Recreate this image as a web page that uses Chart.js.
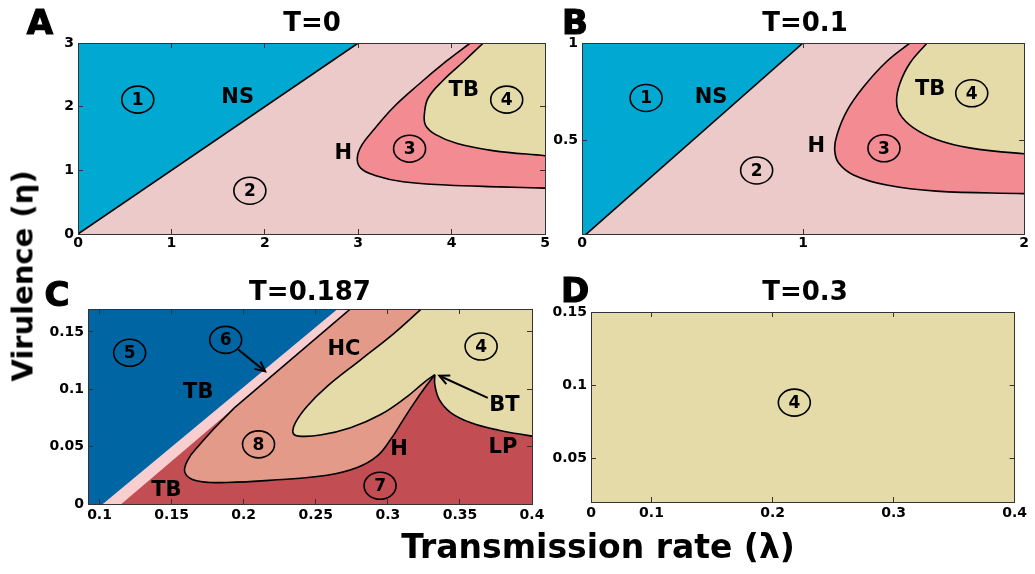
<!DOCTYPE html>
<html>
<head>
<meta charset="utf-8">
<script src="https://cdn.jsdelivr.net/npm/chart.js@4.4.0/dist/chart.umd.min.js"></script>
<style>
  body { margin: 0; background: #fff; }
  #fig { position: relative; width: 1035px; height: 574px; overflow: hidden;
         font-family: 'DejaVu Sans', sans-serif; font-weight: bold; color: #000; }
  canvas { position: absolute; }
  .t { position: absolute; transform: translate(-50%, -50%); white-space: nowrap; line-height: 1; }
  .letter { font-size: 34px; -webkit-text-stroke: 1.2px #000; }
  .ttl { font-size: 26px; }
</style>
</head>
<body>
<div id="fig">
  <canvas id="cA" width="560" height="270" style="left:0;top:0;width:560px;height:270px"></canvas>
  <canvas id="cB" width="505" height="270" style="left:530px;top:0;width:505px;height:270px"></canvas>
  <canvas id="cC" width="560" height="304" style="left:0;top:270px;width:560px;height:304px"></canvas>
  <canvas id="cD" width="505" height="304" style="left:530px;top:270px;width:505px;height:304px"></canvas>

  <div class="t letter" style="left:40px;top:22px">A</div>
  <div class="t letter" style="left:575px;top:22px">B</div>
  <div class="t letter" style="left:57px;top:294px">C</div>
  <div class="t letter" style="left:575px;top:290px">D</div>

  <div class="t ttl" style="left:312px;top:22px">T=0</div>
  <div class="t ttl" style="left:805px;top:22px">T=0.1</div>
  <div class="t ttl" style="left:310px;top:291px">T=0.187</div>
  <div class="t ttl" style="left:805px;top:291px">T=0.3</div>

  <div class="t" style="left:23px;top:276px;font-size:29px;transform:translate(-50%,-50%) rotate(-90deg)">Virulence (η)</div>
  <div class="t" style="left:598px;top:546px;font-size:33px">Transmission rate (λ)</div>
</div>

<script>
// ---- tick values / labels ----
const aXTicks = [0, 1, 2, 3, 4, 5];
const aYTicks = [0, 1, 2, 3];
const bXTicks = [0, 1, 2];
const bYTicks = [0.5, 1];
const cXTicks = [0.1, 0.15, 0.2, 0.25, 0.3, 0.35, 0.4];
const cYTicks = [0, 0.05, 0.1, 0.15];
const dXTicks = [0.05, 0.1, 0.2, 0.3, 0.4];
const dXLabels = ['0', '0.1', '0.2', '0.3', '0.4'];
const dYTicks = [0.05, 0.1, 0.15];

// ---- panel A, T=0 : boundary curves (lambda, eta), ends run past the axes ----
const aNS = [[0, 0], [3, 3]];
const aH = [[4.47, 3.3], [4.20, 3.0], [3.94, 2.71], [3.64, 2.34], [3.37, 1.98], [3.18, 1.66], [3.04, 1.40],
            [2.99, 1.19], [3.03, 1.03], [3.18, 0.92], [3.48, 0.82], [3.94, 0.77], [4.51, 0.74], [5.0, 0.72], [5.5, 0.70]];
const aTB = [[4.56, 3.3], [4.34, 3.0], [4.13, 2.71], [3.90, 2.40], [3.75, 2.14], [3.71, 1.90], [3.72, 1.71],
             [3.83, 1.56], [4.06, 1.42], [4.44, 1.31], [5.0, 1.23], [5.5, 1.16]];
const aBox = [[0, 0], [5, 0], [5, 3], [0, 3]];
const aCircles = [[0.64, 2.11, '1'], [1.84, 0.68, '2'], [3.55, 1.34, '3'], [4.59, 2.11, '4']];
const aTexts = [[1.71, 2.14, 'NS'], [4.13, 2.26, 'TB'], [2.84, 1.26, 'H']];

// ---- panel B, T=0.1 ----
const bNS = [[0, 0], [1, 1]];
const bH = [[1.594, 1.1], [1.483, 1.0], [1.378, 0.905], [1.273, 0.774], [1.199, 0.653], [1.154, 0.531], [1.143, 0.453],
            [1.161, 0.384], [1.228, 0.323], [1.378, 0.271], [1.603, 0.240], [2.0, 0.227], [2.2, 0.22]];
const bTB = [[1.636, 1.1], [1.561, 1.0], [1.483, 0.896], [1.438, 0.792], [1.423, 0.705], [1.438, 0.635],
             [1.498, 0.566], [1.603, 0.505], [1.753, 0.462], [2.0, 0.432], [2.2, 0.42]];
const bBox = [[0, 0], [2, 0], [2, 1], [0, 1]];
const bCircles = [[0.29, 0.718, '1'], [0.79, 0.346, '2'], [1.366, 0.46, '3'], [1.763, 0.742, '4']];
const bTexts = [[0.584, 0.722, 'NS'], [1.575, 0.76, 'TB'], [1.06, 0.467, 'H']];

// ---- panel C, T=0.187 ----
const cBlueEdge = [[0.0927, -0.01], [0.2747, 0.18]];
const cStripEdge = [[0.1058, -0.01], [0.2833, 0.18]];
const cTBline = [[0.1935, 0.0838], [0.2833, 0.18]];
const cHC = [[0.3321, 0.18], [0.3229, 0.1697], [0.3043, 0.1488], [0.2811, 0.1257], [0.2579, 0.1026], [0.2440, 0.0853],
             [0.2358, 0.0708], [0.2342, 0.0621], [0.2381, 0.0592], [0.2532, 0.0601], [0.2741, 0.0665], [0.2950, 0.0780],
             [0.3136, 0.0939], [0.3252, 0.1061], [0.3326, 0.1127]];
const cH = [[0.3326, 0.1127], [0.3264, 0.1026], [0.3183, 0.0882], [0.3101, 0.0723], [0.3020, 0.0564], [0.2927, 0.0419],
            [0.2788, 0.0318], [0.2579, 0.0251], [0.2231, 0.0211], [0.1882, 0.0188], [0.1673, 0.0202], [0.1592, 0.0275],
            [0.1615, 0.0390], [0.1697, 0.0520], [0.1800, 0.0665], [0.1935, 0.0838]];
const cLP = [[0.3326, 0.1127], [0.3326, 0.1040], [0.3357, 0.0910], [0.3438, 0.0795], [0.3577, 0.0708],
             [0.3763, 0.0645], [0.4000, 0.0592], [0.4111, 0.0578]];
const cArrow6 = [[0.1964, 0.1344], [0.2149, 0.1156]];
const cArrowBT = [[0.3693, 0.0925], [0.3357, 0.1118]];
const cBox = [[0.08, -0.01], [0.42, -0.01], [0.42, 0.18], [0.08, 0.18]];
const cCircles = [[0.1209, 0.1318, '5'], [0.1875, 0.1431, '6'], [0.2103, 0.052, '8'], [0.2946, 0.0159, '7'], [0.3647, 0.1373, '4']];
const cTexts = [[0.1685, 0.0968, 'TB'], [0.1464, 0.0116, 'TB'], [0.2695, 0.1344, 'HC'], [0.3078, 0.0477, 'H'],
                [0.3798, 0.0491, 'LP'], [0.3809, 0.0858, 'BT']];

// ---- panel D, T=0.3 ----
const dBox = [[0, 0], [0.5, 0], [0.5, 0.2], [0, 0.2]];
const dCircles = [[0.218, 0.088, '4']];

const col = {
  cyan: '#00A8D2', pink: '#EDCACA', rose: '#F38B93', khaki: '#E5DBA9',
  navy: '#0065A3', blush: '#F9CED1', coral: '#E39A89', brick: '#C24D52'
};
const tickFont = { family: 'DejaVu Sans', weight: 'bold', size: 14 };

const pts = a => a.map(([x, y]) => ({ x, y }));

function curve(data, extra) {
  return Object.assign({ data: pts(data), borderColor: '#000', borderWidth: 1.6, pointRadius: 0,
                         fill: false, tension: 0.4, xAxisID: 'x', yAxisID: 'y' }, extra);
}
function region(data, color, tension = 0.4) {
  return { data: pts(data), backgroundColor: color, borderColor: 'rgba(0,0,0,0)', borderWidth: 0,
           pointRadius: 0, fill: 'shape', tension, xAxisID: 'x', yAxisID: 'y' };
}
// close a curve into a fillable shape: repeated points keep the corners sharp
function shape(line, corners) {
  return [...line, line[line.length - 1], ...corners.flatMap(c => [c, c])];
}

function axis(pos, range, values, labels, size, pad) {
  const horiz = pos === 'top' || pos === 'bottom';
  const shown = pos === 'left' || pos === 'bottom';
  return {
    type: 'linear', axis: horiz ? 'x' : 'y', position: pos, min: range[0], max: range[1],
    afterBuildTicks: s => { s.ticks = values.map(v => ({ value: v })); },
    afterFit: s => { if (horiz) s.height = size; else s.width = size; },
    ticks: { display: shown, font: tickFont, color: '#000', padding: pad, autoSkip: false, maxRotation: 0,
             callback: (v, i) => labels ? labels[i] : String(values[i]) },
    grid: { drawOnChartArea: false, drawTicks: true, tickLength: -5, color: '#333', tickWidth: 1, z: 1 },
    border: { display: true, color: '#333', width: 1, z: 1 }
  };
}

function notesPlugin(n) {
  return {
    id: 'notes',
    afterDatasetsDraw(chart) {
      const { ctx } = chart;
      const x = chart.scales.x, y = chart.scales.y;
      ctx.save();
      ctx.fillStyle = '#000';
      ctx.strokeStyle = '#000';
      ctx.textAlign = 'center';
      ctx.textBaseline = 'middle';
      ctx.font = 'bold 21px "DejaVu Sans"';
      (n.texts || []).forEach(([vx, vy, s]) => ctx.fillText(s, x.getPixelForValue(vx), y.getPixelForValue(vy)));
      ctx.font = 'bold 17px "DejaVu Sans"';
      ctx.lineWidth = 1.6;
      (n.circles || []).forEach(([vx, vy, s]) => {
        const px = x.getPixelForValue(vx), py = y.getPixelForValue(vy);
        ctx.beginPath();
        ctx.ellipse(px, py, 16, 13.5, 0, 0, 2 * Math.PI);
        ctx.stroke();
        ctx.fillText(s, px, py + 1);
      });
      // arrow heads
      ctx.lineWidth = 2;
      (n.arrows || []).forEach(a => {
        const fx = x.getPixelForValue(a[0][0]), fy = y.getPixelForValue(a[0][1]);
        const tx = x.getPixelForValue(a[1][0]), ty = y.getPixelForValue(a[1][1]);
        const ang = Math.atan2(ty - fy, tx - fx);
        ctx.beginPath();
        ctx.moveTo(tx - 11 * Math.cos(ang - 0.45), ty - 11 * Math.sin(ang - 0.45));
        ctx.lineTo(tx, ty);
        ctx.lineTo(tx - 11 * Math.cos(ang + 0.45), ty - 11 * Math.sin(ang + 0.45));
        ctx.stroke();
      });
      ctx.restore();
    }
  };
}

function panel(id, area, xr, yr, xt, xl, yt, datasets, notes, xPad) {
  const cv = document.getElementById(id);
  const [l, t, r, b] = area;
  new Chart(cv, {
    type: 'line',
    data: { datasets },
    options: {
      responsive: false, animation: false, devicePixelRatio: 1,
      layout: { padding: { left: 0, top: t, right: cv.width - r, bottom: 0 } },
      plugins: { legend: { display: false }, tooltip: { enabled: false } },
      elements: { line: { capBezierPoints: false }, point: { radius: 0 } },
      scales: {
        x: axis('bottom', xr, xt, xl, cv.height - b, xPad),
        x2: axis('top', xr, xt, xl, 0, 0),
        y: axis('left', yr, yt, null, l, 9),
        y2: axis('right', yr, yt, null, 0, 0)
      }
    },
    plugins: [notesPlugin(notes)]
  });
}

panel('cA', [78, 43, 545, 234], [0, 5], [0, 3], aXTicks, null, aYTicks, [
  curve(aNS, { tension: 0 }), curve(aH), curve(aTB),
  region(shape(aTB, [[5.5, 3.3]]), col.khaki),
  region(shape(aH, [[5.5, 3.3]]), col.rose),
  region([...aNS, [0, 3]], col.cyan, 0),
  region(aBox, col.pink, 0)
], { circles: aCircles, texts: aTexts }, 6);

panel('cB', [52, 43, 497, 234], [0, 2], [0.02, 1], bXTicks, null, bYTicks, [
  curve(bNS, { tension: 0 }), curve(bH), curve(bTB),
  region(shape(bTB, [[2.2, 1.1]]), col.khaki),
  region(shape(bH, [[2.2, 1.1]]), col.rose),
  region([...bNS, [0, 1]], col.cyan, 0),
  region(bBox, col.pink, 0)
], { circles: bCircles, texts: bTexts }, 6);

panel('cC', [88, 39, 532, 234], [0.092, 0.4], [0, 0.17], cXTicks, null, cYTicks, [
  curve(cTBline, { tension: 0 }), curve(cHC), curve(cH), curve(cLP),
  curve(cArrow6, { tension: 0, borderWidth: 2 }), curve(cArrowBT, { tension: 0, borderWidth: 2 }),
  region([...cBlueEdge, [0.08, 0.18], [0.08, -0.01]], col.navy, 0),
  region([...cStripEdge, [0.08, 0.18], [0.08, -0.01]], col.blush, 0),
  region(shape([...cHC, ...cLP], [[0.42, 0.18]]), col.khaki),
  region(shape(cH, [[0.17, 0.18], [0.36, 0.18]]), col.coral),
  region(cBox, col.brick, 0)
], { circles: cCircles, texts: cTexts, arrows: [cArrow6, cArrowBT] }, 8);

panel('cD', [61, 42, 490, 232], [0.05, 0.4], [0.02, 0.15], dXTicks, dXLabels, dYTicks, [
  region(dBox, col.khaki, 0)
], { circles: dCircles }, 8);
</script>
</body>
</html>
